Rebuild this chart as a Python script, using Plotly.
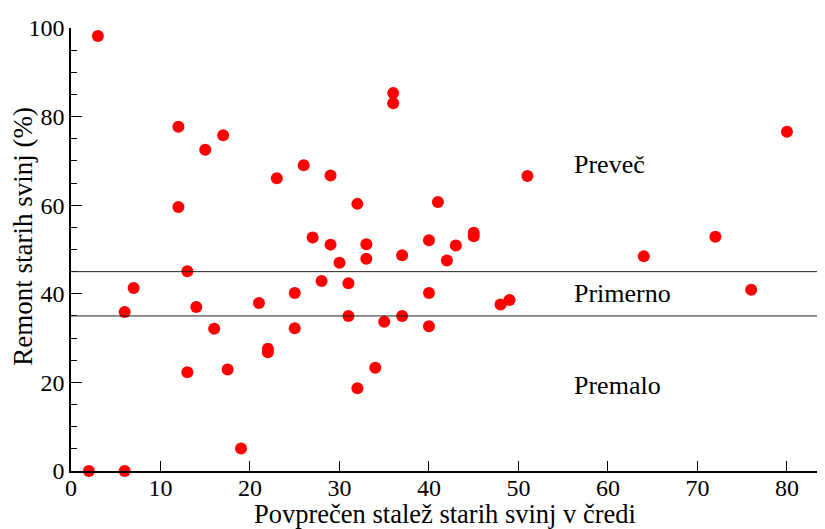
import plotly.graph_objects as go

# Povprečen stalež starih svinj v čredi (x) vs Remont starih svinj % (y)
x_vals = [2, 6, 3, 12, 15, 17, 12, 23, 26, 29, 36, 36, 51, 80, 32, 41,
          27, 29, 30, 33, 33, 37, 40, 42, 43, 45, 45, 64, 72, 76,
          13, 7, 6, 14, 16, 21, 25, 25, 22, 22, 13, 17.5, 19,
          28, 31, 31, 35, 37, 40, 40, 48, 49, 34, 32]
y_vals = [0, 0, 98.2, 77.7, 72.5, 75.8, 59.6, 66.1, 69.0, 66.7, 85.3, 83.0, 66.6, 76.6, 60.3, 60.7,
          52.7, 51.1, 47.0, 51.2, 47.9, 48.7, 52.1, 47.5, 50.9, 53.8, 53.0, 48.5, 52.9, 40.9,
          45.1, 41.3, 35.9, 37.0, 32.1, 37.9, 40.2, 32.2, 27.6, 26.8, 22.3, 22.9, 5.1,
          42.9, 42.4, 35.0, 33.7, 35.0, 40.2, 32.7, 37.6, 38.6, 23.3, 18.7]

limit_lines = [45, 35]
zone_labels = ["Preveč", "Primerno", "Premalo"]
zone_label_y = [69.3, 40, 19.4]
zone_label_x = 56

x_title = "Povprečen stalež starih svinj v čredi"
y_title = "Remont starih svinj (%)"

FONT = "Liberation Serif, Times New Roman, Times, serif"

fig = go.Figure()
fig.add_trace(go.Scatter(
    x=x_vals, y=y_vals, mode="markers",
    marker=dict(color="#ff0000", size=12, line=dict(width=0)),
    cliponaxis=False, showlegend=False, hoverinfo="x+y"))

for yl in limit_lines:
    fig.add_shape(type="line", xref="paper", x0=0, x1=1, yref="y", y0=yl, y1=yl,
                  line=dict(color="#222222", width=1))

for txt, ty in zip(zone_labels, zone_label_y):
    fig.add_annotation(x=zone_label_x, y=ty, text=txt, showarrow=False,
                       xanchor="left", yanchor="middle",
                       font=dict(family=FONT, size=26, color="black"))

# axis titles placed as annotations for exact positioning
fig.add_annotation(xref="paper", yref="paper", x=0.496, y=-0.096, text=x_title,
                   showarrow=False, xanchor="center", yanchor="middle",
                   font=dict(family=FONT, size=26.5, color="black"))
fig.add_annotation(xref="paper", yref="paper", x=-0.063, y=0.53, text=y_title,
                   showarrow=False, xanchor="center", yanchor="middle", textangle=-90,
                   font=dict(family=FONT, size=27, color="black"))

fig.update_layout(
    width=817, height=521,
    margin=dict(l=63, r=0, t=20, b=58),
    plot_bgcolor="white", paper_bgcolor="white",
    font=dict(family=FONT, size=24, color="black"),
    xaxis=dict(range=[0, 84.25], tickvals=[0, 10, 20, 30, 40, 50, 60, 70, 80],
               ticks="inside", ticklen=10, tickwidth=1.2, tickcolor="black",
               showline=True, linecolor="black", linewidth=1.5,
               showgrid=False, zeroline=False, automargin=False,
               ticklabelstandoff=-6,
               tickfont=dict(family=FONT, size=24)),
    yaxis=dict(range=[0, 100], tickvals=[0, 20, 40, 60, 80, 100],
               ticks="inside", ticklen=11, tickwidth=1.2, tickcolor="black",
               minor=dict(dtick=5, ticks="inside", ticklen=6, tickwidth=1, tickcolor="black"),
               showline=True, linecolor="black", linewidth=1.5,
               showgrid=False, zeroline=False, automargin=False,
               tickfont=dict(family=FONT, size=24)),
)

fig.write_html("out.html")
